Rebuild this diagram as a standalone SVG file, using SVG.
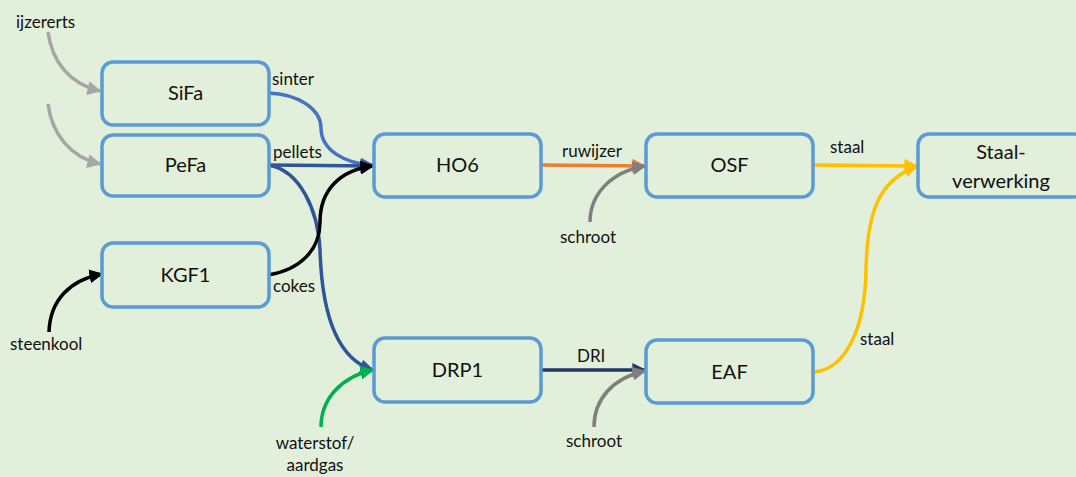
<svg xmlns="http://www.w3.org/2000/svg" width="1076" height="477" viewBox="0 0 1076 477">
<style>
.box{fill:none;stroke:#5B9BD5;stroke-width:3.5}
.nt{font-family:Lato,"Liberation Sans",sans-serif;font-size:20px;fill:#111;text-anchor:middle}
.lb{font-family:Lato,"Liberation Sans",sans-serif;font-size:17px;fill:#111}
.c{fill:none;stroke-width:3.5}
</style>
<defs>
<marker id="aLg" viewBox="0 0 10 10" refX="9" refY="5" markerWidth="4" markerHeight="4" orient="auto" markerUnits="strokeWidth"><path d="M0,0 L10,5 L0,10 z" fill="#A6A6A6"/></marker>
<marker id="aG" viewBox="0 0 10 10" refX="9" refY="5" markerWidth="4" markerHeight="4" orient="auto" markerUnits="strokeWidth"><path d="M0,0 L10,5 L0,10 z" fill="#7F7F7F"/></marker>
<marker id="aK" viewBox="0 0 10 10" refX="9" refY="5" markerWidth="4" markerHeight="4" orient="auto" markerUnits="strokeWidth"><path d="M0,0 L10,5 L0,10 z" fill="#000"/></marker>
<marker id="aB" viewBox="0 0 10 10" refX="9" refY="5" markerWidth="4" markerHeight="4" orient="auto" markerUnits="strokeWidth"><path d="M0,0 L10,5 L0,10 z" fill="#4472C4"/></marker>
<marker id="aDB" viewBox="0 0 10 10" refX="9" refY="5" markerWidth="4" markerHeight="4" orient="auto" markerUnits="strokeWidth"><path d="M0,0 L10,5 L0,10 z" fill="#2F5597"/></marker>
<marker id="aN" viewBox="0 0 10 10" refX="9" refY="5" markerWidth="4" markerHeight="4" orient="auto" markerUnits="strokeWidth"><path d="M0,0 L10,5 L0,10 z" fill="#1F3864"/></marker>
<marker id="aO" viewBox="0 0 10 10" refX="9" refY="5" markerWidth="4" markerHeight="4" orient="auto" markerUnits="strokeWidth"><path d="M0,0 L10,5 L0,10 z" fill="#ED7D31"/></marker>
<marker id="aY" viewBox="0 0 10 10" refX="9" refY="5" markerWidth="4" markerHeight="4" orient="auto" markerUnits="strokeWidth"><path d="M0,0 L10,5 L0,10 z" fill="#FFC000"/></marker>
<marker id="aGr" viewBox="0 0 10 10" refX="9" refY="5" markerWidth="4" markerHeight="4" orient="auto" markerUnits="strokeWidth"><path d="M0,0 L10,5 L0,10 z" fill="#00B050"/></marker>
</defs>
<rect x="0" y="0" width="1076" height="477" fill="#E2EFDA"/>
<g id="connectors">
<path class="c" stroke="#A6A6A6" marker-end="url(#aLg)" d="M48,32 C52,62 70,84 100,91"/>
<path class="c" stroke="#A6A6A6" marker-end="url(#aLg)" d="M48,104 C52,134 70,157 100,164"/>
<path class="c" stroke="#000" marker-end="url(#aK)" d="M49,332 C50,300 70,280 102,274"/>
<path class="c" stroke="#4472C4" marker-end="url(#aB)" d="M268,93 C300,94 321,110 321,128 C321,150 345,164 373,165"/>
<path class="c" stroke="#2F5597" marker-end="url(#aDB)" d="M268,165 L373,166"/>
<path class="c" stroke="#2F5597" marker-end="url(#aDB)" d="M268,165 C300,170 318,210 320,250 C322,320 340,360 373,370"/>
<path class="c" stroke="#000" marker-end="url(#aK)" d="M268,275 C300,270 320,250 320,222 C320,190 340,170 373,166"/>
<path class="c" stroke="#ED7D31" marker-end="url(#aO)" d="M541,165 L645,166"/>
<path class="c" stroke="#7F7F7F" marker-end="url(#aG)" d="M590,222 C590,195 610,172 645,166"/>
<path class="c" stroke="#1F3864" marker-end="url(#aN)" d="M541,370 L645,370"/>
<path class="c" stroke="#7F7F7F" marker-end="url(#aG)" d="M594,427 C594,400 612,378 645,371"/>
<path class="c" stroke="#00B050" marker-end="url(#aGr)" d="M321,427 C321,400 340,377 373,370"/>
<path class="c" stroke="#FFC000" marker-end="url(#aY)" d="M813,165 L917,166"/>
<path class="c" stroke="#FFC000" marker-end="url(#aY)" d="M813,372 C845,370 865,330 866,270 C867,210 880,180 917,166"/>
<text class="lb" x="16" y="28">ijzererts</text>
<text class="lb" x="10" y="350">steenkool</text>
<text class="lb" x="272" y="85">sinter</text>
<text class="lb" x="273" y="158">pellets</text>
<text class="lb" x="273" y="292">cokes</text>
<text class="lb" x="562" y="157">ruwijzer</text>
<text class="lb" x="560" y="243">schroot</text>
<text class="lb" x="577" y="362">DRI</text>
<text class="lb" x="566" y="447">schroot</text>
<text class="lb" x="315" y="449" text-anchor="middle">waterstof/</text>
<text class="lb" x="315" y="471" text-anchor="middle">aardgas</text>
<text class="lb" x="830" y="153">staal</text>
<text class="lb" x="860" y="345">staal</text>
</g>
<g id="SiFa"><rect class="box" x="102" y="62" width="167" height="63" rx="11"/><text class="nt" x="185.5" y="100">SiFa</text></g>
<g id="PeFa"><rect class="box" x="102" y="135" width="167" height="61" rx="11"/><text class="nt" x="185.5" y="172">PeFa</text></g>
<g id="KGF1"><rect class="box" x="102" y="243" width="167" height="64" rx="11"/><text class="nt" x="185.5" y="282">KGF1</text></g>
<g id="HO6"><rect class="box" x="374" y="134" width="167" height="63" rx="11"/><text class="nt" x="457.5" y="172">HO6</text></g>
<g id="DRP1"><rect class="box" x="374" y="338" width="167" height="64" rx="11"/><text class="nt" x="457.5" y="377">DRP1</text></g>
<g id="OSF"><rect class="box" x="646" y="134" width="167" height="63" rx="11"/><text class="nt" x="729.5" y="172">OSF</text></g>
<g id="EAF"><rect class="box" x="646" y="340" width="167" height="63" rx="11"/><text class="nt" x="729.5" y="379">EAF</text></g>
<g id="Staalverwerking"><rect class="box" x="918" y="134" width="167" height="63" rx="11"/><text class="nt" x="1001" y="159">Staal-</text><text class="nt" x="1001" y="188">verwerking</text></g>
</svg>
